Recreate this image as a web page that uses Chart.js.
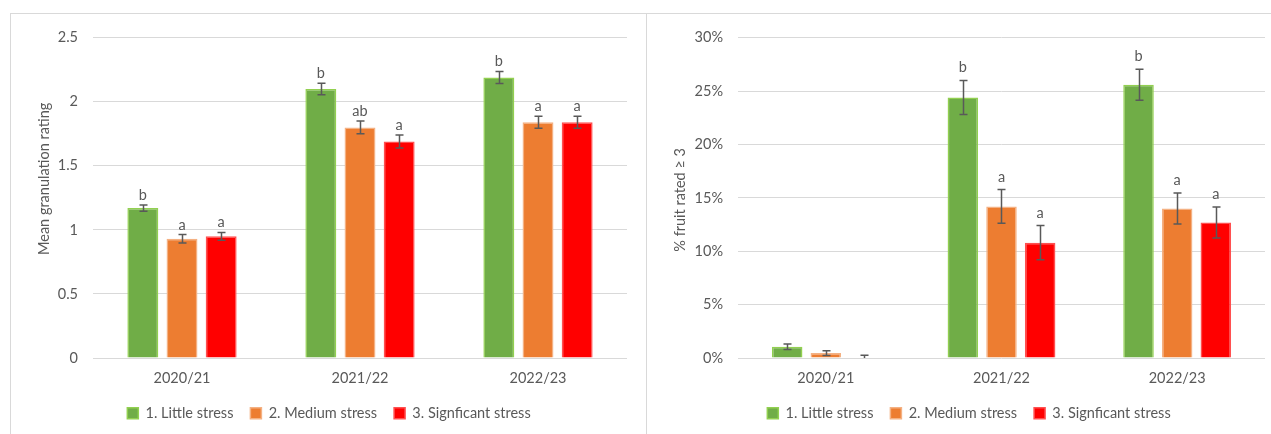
<!DOCTYPE html>
<html lang="en">
<head>
<meta charset="UTF-8">
<title>Granulation by stress level</title>
<script src="https://cdn.jsdelivr.net/npm/chart.js"></script>
<style>
  html, body { margin: 0; padding: 0; background: #fff; overflow: hidden; }
  .panel { position: absolute; border: 1px solid #d9d9d9; box-sizing: border-box; }
  #leftPanel { left: 10px; top: 13px; width: 637px; height: 432px; }
  #rightPanel { left: 646px; top: 13px; width: 630px; height: 432px; }
  .panel canvas { display: block; }
</style>
</head>
<body>
<div class="panel" id="leftPanel"><canvas id="ratingChart" width="635" height="430"></canvas></div>
<div class="panel" id="rightPanel"><canvas id="pctChart" width="628" height="430"></canvas></div>

<script>
// seasons and stress groups
const seasons = ['2020/21', '2021/22', '2022/23'];
const groupNames = ['1. Little stress', '2. Medium stress', '3. Signficant stress'];

// mean granulation rating (0-3 scale)
const ratingLittle = [1.17, 2.10, 2.19];
const ratingMedium = [0.93, 1.80, 1.84];
const ratingSignificant = [0.95, 1.69, 1.84];
const ratingErrLittle = [0.025, 0.045, 0.047];
const ratingErrMedium = [0.033, 0.05, 0.047];
const ratingErrSignificant = [0.03, 0.05, 0.047];
const ratingLettersLittle = ['b', 'b', 'b'];
const ratingLettersMedium = ['a', 'ab', 'a'];
const ratingLettersSignificant = ['a', 'a', 'a'];
const ratingTicks = [0, 0.5, 1, 1.5, 2, 2.5];

// % of fruit rated 3 or higher
const pctLittle = [1.05, 24.4, 25.6];
const pctMedium = [0.46, 14.2, 14.0];
const pctSignificant = [0, 10.8, 12.7];
const pctErrLittle = [0.26, 1.6, 1.45];
const pctErrMedium = [0.23, 1.58, 1.45];
const pctErrSignificant = [0.25, 1.6, 1.45];
const pctLettersLittle = ['', 'b', 'b'];
const pctLettersMedium = ['', 'a', 'a'];
const pctLettersSignificant = ['', 'a', 'a'];
const pctTicks = [0, 5, 10, 15, 20, 25, 30];

const textColor = '#595959';
const gridColor = '#d9d9d9';
const baseFont = { family: 'Lato', size: 14.5 };
const fills = ['#70ad47', '#ed7d31', '#ff0000'];
const edges = ['#92d050', '#f4b183', '#ff5050'];

// error bars and significance letters on top of each bar
const errorBars = {
  id: 'errorBars',
  afterDatasetsDraw(chart, args, opts) {
    const ctx = chart.ctx;
    const y = chart.scales.y;
    const area = chart.chartArea;
    ctx.save();
    ctx.beginPath();
    ctx.rect(area.left, area.top - 40, area.right - area.left, area.bottom - area.top + 40);
    ctx.clip();
    ctx.strokeStyle = textColor;
    ctx.lineWidth = 1.5;
    ctx.fillStyle = textColor;
    ctx.font = baseFont.size + 'px ' + baseFont.family;
    ctx.textAlign = 'center';
    ctx.textBaseline = 'alphabetic';
    chart.data.datasets.forEach((ds, di) => {
      const meta = chart.getDatasetMeta(di);
      meta.data.forEach((bar, i) => {
        const v = ds.data[i];
        const e = ds.errors[i];
        const top = y.getPixelForValue(v + e);
        const bottom = y.getPixelForValue(v - e);
        const x = Math.round(bar.x) + 0.5;
        ctx.beginPath();
        ctx.moveTo(x, top);
        ctx.lineTo(x, bottom);
        ctx.moveTo(x - 4, top);
        ctx.lineTo(x + 4, top);
        ctx.moveTo(x - 4, bottom);
        ctx.lineTo(x + 4, bottom);
        ctx.stroke();
        if (ds.letters[i]) ctx.fillText(ds.letters[i], bar.x, top - opts.gap);
      });
    });
    ctx.restore();
  }
};

// rotated y-axis title, placed by hand
const sideTitle = {
  id: 'sideTitle',
  afterDraw(chart, args, opts) {
    const ctx = chart.ctx;
    const area = chart.chartArea;
    ctx.save();
    ctx.translate(opts.x, (area.top + area.bottom) / 2 + opts.shift);
    ctx.rotate(-Math.PI / 2);
    ctx.fillStyle = textColor;
    ctx.font = baseFont.size + 'px ' + baseFont.family;
    ctx.textAlign = 'center';
    ctx.textBaseline = 'middle';
    ctx.fillText(opts.text, 0, 0);
    ctx.restore();
  }
};

function makeDatasets(values, errors, letters) {
  return values.map((vals, k) => ({
    label: groupNames[k],
    data: vals,
    errors: errors[k],
    letters: letters[k],
    backgroundColor: fills[k],
    borderColor: edges[k],
    borderWidth: 1.5,
    categoryPercentage: 0.66,
    barPercentage: 0.79
  }));
}

function makeChart(canvasId, datasets, tickValues, yMax, axisWidth, padding, title, gap, fmt) {
  return new Chart(document.getElementById(canvasId), {
    type: 'bar',
    data: { labels: seasons, datasets: datasets },
    plugins: [errorBars, sideTitle],
    options: {
      responsive: false,
      animation: false,
      layout: { padding: padding },
      plugins: {
        legend: {
          position: 'bottom',
          labels: {
            color: textColor,
            font: baseFont,
            boxWidth: 11,
            boxHeight: 11,
            padding: 17
          }
        },
        tooltip: { enabled: false },
        errorBars: { gap: gap },
        sideTitle: title
      },
      scales: {
        x: {
          grid: { display: false, drawTicks: false },
          border: { display: false },
          ticks: { color: textColor, font: baseFont, padding: 12 },
          afterFit: s => { s.height = 31; }
        },
        y: {
          min: 0,
          max: yMax,
          afterBuildTicks: s => { s.ticks = tickValues.map(v => ({ value: v })); },
          afterFit: s => { s.width = axisWidth; },
          grid: { color: gridColor, lineWidth: 1, drawTicks: false },
          border: { display: false },
          ticks: { color: textColor, font: baseFont, padding: 15, callback: fmt }
        }
      }
    }
  });
}

makeChart('ratingChart',
  makeDatasets(
    [ratingLittle, ratingMedium, ratingSignificant],
    [ratingErrLittle, ratingErrMedium, ratingErrSignificant],
    [ratingLettersLittle, ratingLettersMedium, ratingLettersSignificant]),
  ratingTicks, 2.5, 62,
  { top: 18, right: 19, bottom: 13.5, left: 20 },
  { text: 'Mean granulation rating', x: 33, shift: -19 },
  5,
  v => String(v));

makeChart('pctChart',
  makeDatasets(
    [pctLittle, pctMedium, pctSignificant],
    [pctErrLittle, pctErrMedium, pctErrSignificant],
    [pctLettersLittle, pctLettersMedium, pctLettersSignificant]),
  pctTicks, 30, 65,
  { top: 19, right: 10, bottom: 13.5, left: 26 },
  { text: '% fruit rated \u2265 3', x: 33, shift: 2 },
  8,
  v => v + '%');
</script>
</body>
</html>
